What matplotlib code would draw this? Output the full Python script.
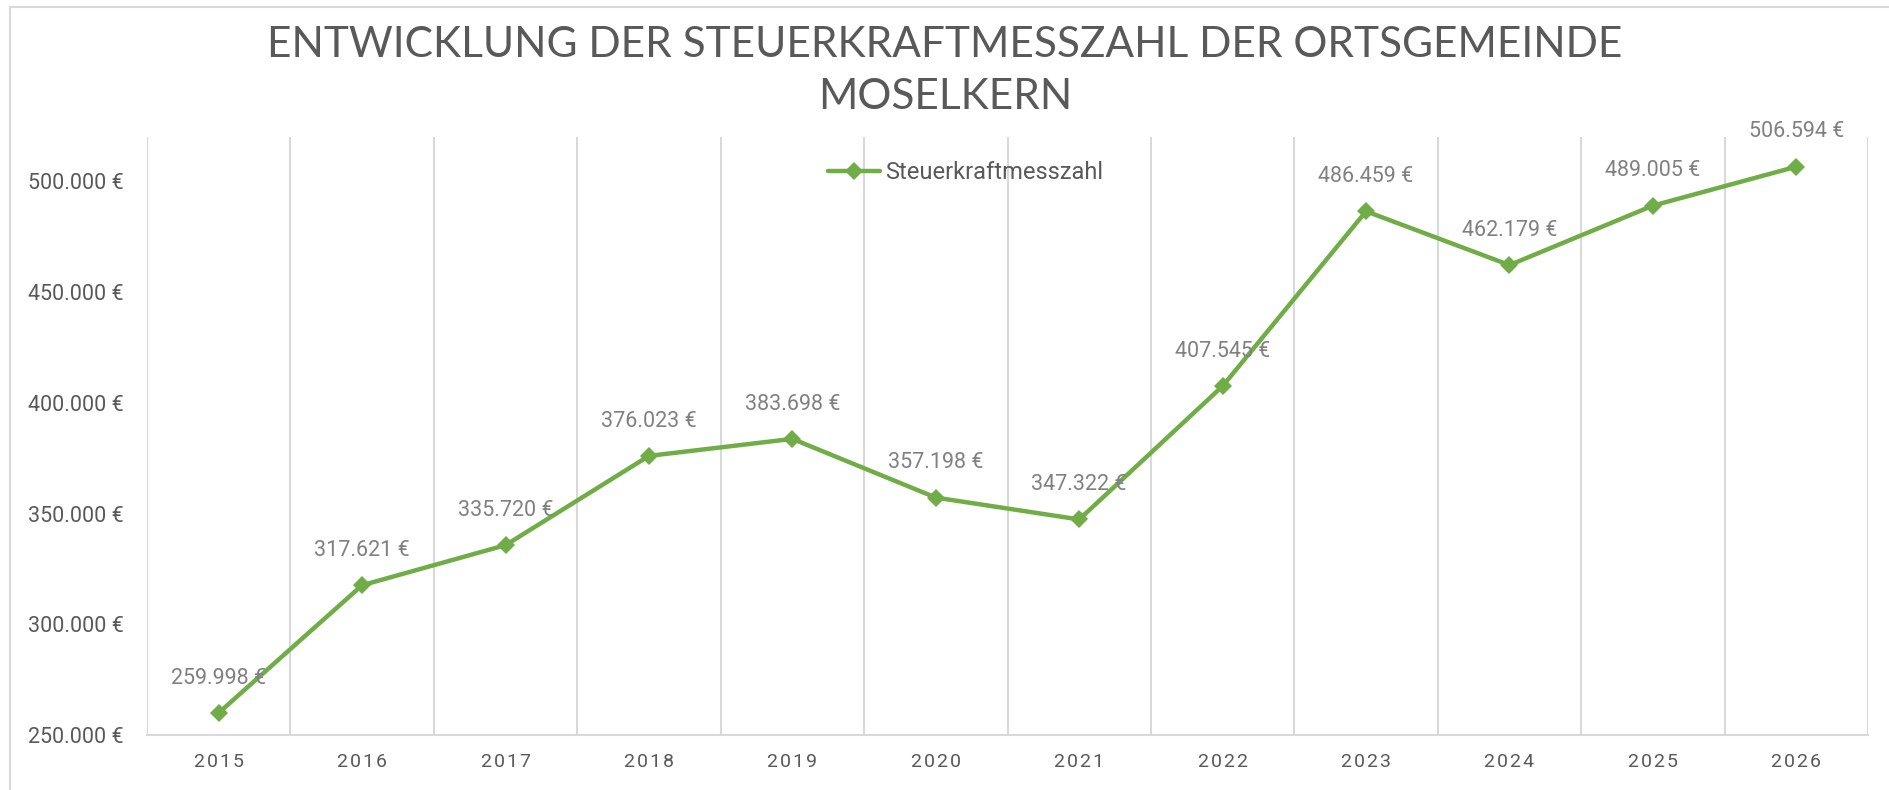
import matplotlib
matplotlib.use('agg')
import matplotlib.pyplot as plt
from matplotlib.patches import Rectangle

years = ['2015', '2016', '2017', '2018', '2019', '2020',
         '2021', '2022', '2023', '2024', '2025', '2026']
werte = [259998, 317621, 335720, 376023, 383698, 357198,
         347322, 407545, 486459, 462179, 489005, 506594]
y_ticks = [250000, 300000, 350000, 400000, 450000, 500000]
titel = 'ENTWICKLUNG DER STEUERKRAFTMESSZAHL DER ORTSGEMEINDE\nMOSELKERN'
serie = 'Steuerkraftmesszahl'

GRUEN = '#70AD47'
GRID = '#d9d9d9'
TEXT = '#595959'
LABEL = '#808080'
SCHRIFT = 'Roboto'


def euro(v):
    return f'{v:,}'.replace(',', '.') + ' €'


def gesperrt(s):
    # etwas Sperrung wie bei den Jahreszahlen im Original
    return '\u200a'.join(s)


fig = plt.figure(figsize=(18.89, 7.90), dpi=100)
ax = fig.add_axes([147 / 1889, 55 / 790, (1868 - 147) / 1889, (735 - 137) / 790])

x = list(range(len(years)))
ax.plot(x, werte, color=GRUEN, lw=3.2, marker='D', ms=9, mew=0,
        label=serie, solid_capstyle='round')

for xi, v in zip(x, werte):
    ax.annotate(euro(v), (xi, v), xytext=(0, 25), textcoords='offset points',
                ha='center', va='center', fontsize=15.5, color=LABEL,
                family=SCHRIFT)

ax.set_xlim(-0.5, len(years) - 0.5)
ax.set_ylim(250000, 520000)
ax.set_xticks(x)
ax.set_xticklabels([gesperrt(j) for j in years], fontsize=14, color=TEXT,
                   family=[SCHRIFT, 'DejaVu Sans'])
ax.set_yticks(y_ticks)
ax.set_yticklabels([euro(v) for v in y_ticks], fontsize=15.5, color=TEXT,
                   family=SCHRIFT)
ax.set_xticks([i - 0.5 for i in range(len(years) + 1)], minor=True)
ax.tick_params(which='both', length=0)
ax.tick_params(axis='y', pad=17)
ax.tick_params(axis='x', pad=13)
ax.grid(True, which='minor', axis='x', color=GRID, lw=1.5)
for s in ['top', 'left', 'right']:
    ax.spines[s].set_visible(False)
ax.spines['bottom'].set_color(GRID)
ax.spines['bottom'].set_linewidth(1.5)

leg = ax.legend(loc='center left', bbox_to_anchor=((828 - 147) / 1721, (735 - 173) / 598),
                frameon=False, borderpad=0, borderaxespad=0,
                handlelength=2.2, handletextpad=0.2,
                prop={'family': SCHRIFT, 'size': 17})
for t in leg.get_texts():
    t.set_color(TEXT)

fig.text(945 / 1889, 1 - 71 / 790, titel, ha='center', va='center',
         multialignment='center', fontsize=30.5, color=TEXT, family='Lato',
         linespacing=1.42)

fig.patches.append(Rectangle((10 / 1889, -0.05), 1.1, 1.05 - 7 / 790,
                             transform=fig.transFigure, fill=False,
                             edgecolor=GRID, lw=1.5))

fig.savefig('out.png', dpi=100)
plt.close(fig)
